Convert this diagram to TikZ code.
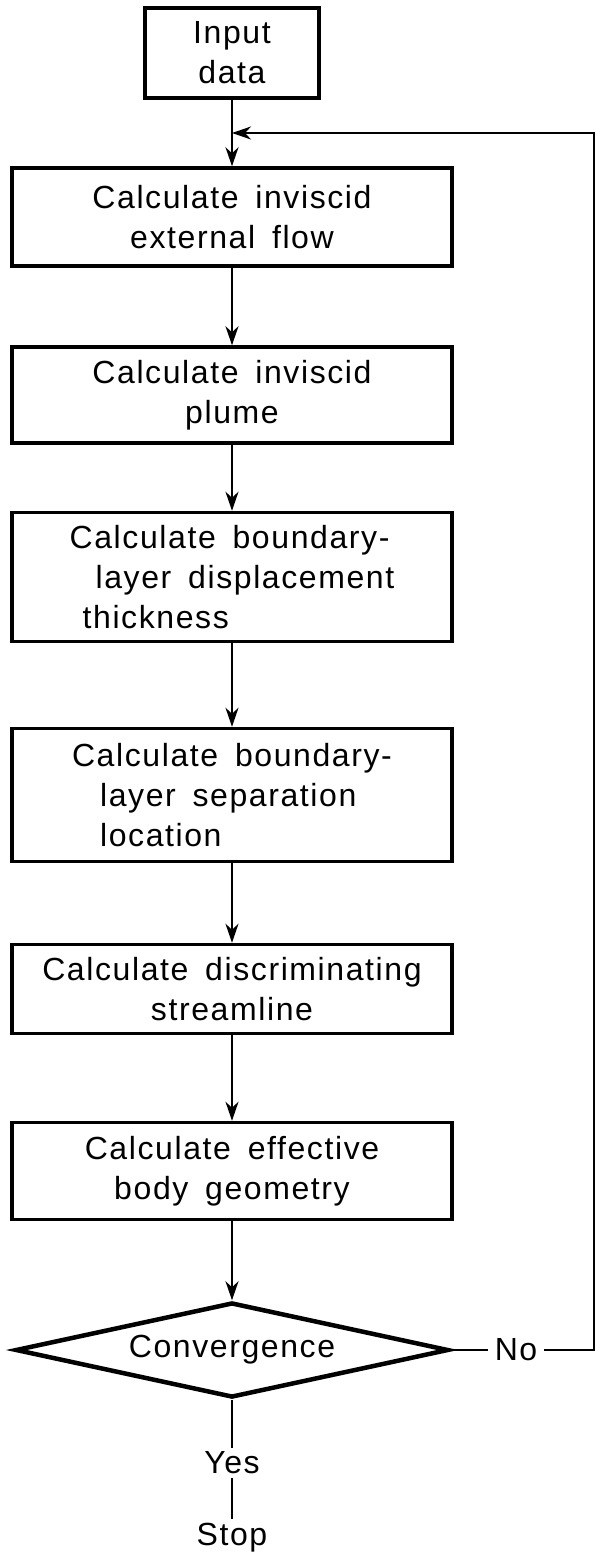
\documentclass[tikz,border=0pt]{standalone}
\usepackage{fontspec}
\setmainfont{Liberation Sans}[LetterSpace=5, WordSpace=1.6]
\usepackage{tikz}
\usetikzlibrary{shapes.geometric, arrows.meta}

\tikzset{
    stepbox/.style={draw, line width=3.5pt, minimum width=440pt, inner sep=0pt, align=center},
    flow/.style={line width=2.2pt, -{Stealth[length=19pt, width=13pt, inset=6pt]}},
    plain/.style={line width=2.2pt},
}

\begin{document}
\begin{tikzpicture}[x=1pt, y=-1pt, font=\fontsize{32}{40}\selectfont]
        \useasboundingbox (0,0) rectangle (596,1553);

        % Start
        \node[stepbox, minimum width=174pt, minimum height=90pt] (inp) at (232,53) {Input\\data};

        % Calculation steps
        \node[stepbox, minimum height=98pt] (ext) at (232,217) {Calculate inviscid\\external flow};
        \node[stepbox, minimum height=96pt] (plume) at (232,395) {Calculate inviscid\\plume};
        \node[stepbox, minimum height=129pt, align=left] (disp) at (232,577)
            {Calculate boundary-\\\hspace*{26pt}layer displacement\\\hspace*{13pt}thickness};
        \node[stepbox, minimum height=133pt, align=left] (sep) at (232,795)
            {Calculate boundary-\\\hspace*{28pt}layer separation\\\hspace*{28pt}location};
        \node[stepbox, minimum height=89pt] (disc) at (232,989) {Calculate discriminating\\streamline};
        \node[stepbox, minimum height=97pt] (geom) at (232,1171) {Calculate effective\\body geometry};

        % Test
        \node[diamond, draw, line width=4.5pt, aspect=4.56, minimum width=433pt, minimum height=95pt, inner sep=0pt] (conv) at (232,1350) {Convergence};
        \node[inner sep=7pt] (no) at (516,1350) {No};
        \node[inner sep=4pt] (yes) at (232,1463) {Yes};
        \node[inner sep=4pt] (stop) at (232,1538) {Stop};

        % Loop points
        \coordinate (join) at (232,133);
        \coordinate (corner) at (594,1350);

        % Main flow
        \draw[flow] (inp) -- (ext);
        \draw[flow] (ext) -- (plume);
        \draw[flow] (plume) -- (disp);
        \draw[flow] (disp) -- (sep);
        \draw[flow] (sep) -- (disc);
        \draw[flow] (disc) -- (geom);
        \draw[flow] (geom) -- (conv);

        % Yes / No branches
        \draw[plain] (conv) -- (yes);
        \draw[plain] (yes) -- (stop);
        \draw[plain] (conv) -- (no);
        \draw[flow] (no) -- (corner) |- (join);
    \end{tikzpicture}
\end{document}
